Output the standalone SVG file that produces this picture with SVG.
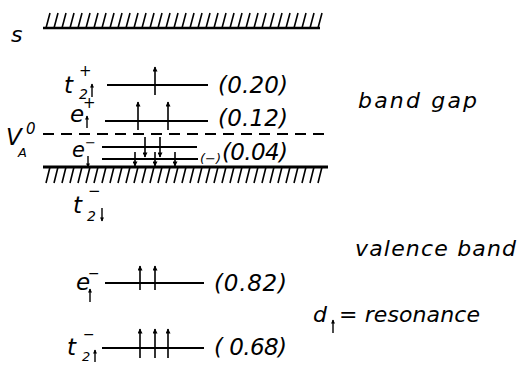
<svg xmlns="http://www.w3.org/2000/svg" width="519" height="365" viewBox="0 0 519 365">
<defs>
<style>
.t{font-family:"DejaVu Sans",sans-serif;font-style:oblique;fill:#000}
.lv{stroke:#000;stroke-width:2;fill:none}
.ar{stroke:#000;stroke-width:1.6;fill:none;marker-end:url(#ah)}
.sa{stroke:#000;stroke-width:1.4;fill:none;marker-end:url(#sh)}
</style>
<marker id="ah" viewBox="0 0 10 10" refX="9" refY="5" markerWidth="7" markerHeight="5" markerUnits="userSpaceOnUse" orient="auto"><path d="M0,0 L10,5 L0,10 z" fill="#000"/></marker>
<marker id="sh" viewBox="0 0 10 10" refX="9" refY="5" markerWidth="5" markerHeight="4" markerUnits="userSpaceOnUse" orient="auto"><path d="M0,0 L10,5 L0,10 z" fill="#000"/></marker>
</defs>
<rect width="519" height="365" fill="#fff"/>

<g id="surface">
<text class="t" x="11" y="42" font-size="22">s</text>
<line x1="43" y1="28" x2="320" y2="28" stroke="#000" stroke-width="2.5"/>
<path stroke="#000" stroke-width="1.6" fill="none" d="M46 28l4-15M54 28l4-15M62 28l4-15M70 28l4-15M78 28l4-15M86 28l4-15M94 28l4-15M102 28l4-15M110 28l4-15M118 28l4-15M126 28l4-15M134 28l4-15M142 28l4-15M150 28l4-15M158 28l4-15M166 28l4-15M174 28l4-15M182 28l4-15M190 28l4-15M198 28l4-15M206 28l4-15M214 28l4-15M222 28l4-15M230 28l4-15M238 28l4-15M246 28l4-15M254 28l4-15M262 28l4-15M270 28l4-15M278 28l4-15M286 28l4-15M294 28l4-15M302 28l4-15M310 28l4-15M318 28l4-15"/>
</g>

<g id="t2up-plus">
<text class="t" x="64" y="93" font-size="23">t</text>
<text class="t" x="79" y="76" font-size="15">+</text>
<text class="t" x="79" y="99" font-size="14">2</text>
<line class="sa" x1="92" y1="97" x2="92" y2="84"/>
<line class="lv" x1="107" y1="85" x2="208" y2="85"/>
<line class="ar" x1="155" y1="95" x2="155" y2="67"/>
<text class="t" x="218" y="93" font-size="23" textLength="70" lengthAdjust="spacing">(0.20)</text>
</g>

<g id="eup-plus">
<text class="t" x="70" y="122" font-size="23">e</text>
<text class="t" x="83" y="108" font-size="15">+</text>
<line class="sa" x1="87" y1="128" x2="87" y2="116"/>
<line class="lv" x1="105" y1="121" x2="208" y2="121"/>
<line class="ar" x1="138" y1="130" x2="138" y2="102"/>
<line class="ar" x1="168" y1="130" x2="168" y2="102"/>
<text class="t" x="218" y="126" font-size="23" textLength="70" lengthAdjust="spacing">(0.12)</text>
</g>

<g id="VA0">
<text class="t" x="6" y="145" font-size="23">V</text>
<text class="t" x="26" y="134" font-size="15">0</text>
<text class="t" x="18" y="157" font-size="13">A</text>
<line x1="43" y1="134" x2="325" y2="134" stroke="#000" stroke-width="2" stroke-dasharray="11 7"/>
</g>

<g id="edown-minus">
<text class="t" x="72" y="157" font-size="21">e</text>
<text class="t" x="85" y="147" font-size="13">−</text>
<line class="sa" x1="88" y1="156" x2="88" y2="167"/>
<line class="lv" x1="102" y1="147" x2="197" y2="147"/>
<line class="lv" x1="102" y1="159" x2="198" y2="159"/>
<line class="ar" x1="145" y1="137" x2="145" y2="157"/>
<line class="ar" x1="160" y1="137" x2="160" y2="157"/>
<line class="ar" x1="135" y1="152" x2="135" y2="166"/>
<line class="ar" x1="155" y1="152" x2="155" y2="166"/>
<line class="ar" x1="175" y1="152" x2="175" y2="166"/>
<text class="t" x="200" y="163" font-size="13">(−)</text>
<text class="t" x="222" y="160" font-size="23" textLength="66" lengthAdjust="spacing">(0.04)</text>
</g>

<g id="valence-edge">
<line x1="43" y1="167" x2="328" y2="167" stroke="#000" stroke-width="2.8"/>
<path stroke="#000" stroke-width="1.6" fill="none" d="M50 167l-4 16M58 167l-4 16M66 167l-4 16M74 167l-4 16M82 167l-4 16M90 167l-4 16M98 167l-4 16M106 167l-4 16M114 167l-4 16M122 167l-4 16M130 167l-4 16M138 167l-4 16M146 167l-4 16M154 167l-4 16M162 167l-4 16M170 167l-4 16M178 167l-4 16M186 167l-4 16M194 167l-4 16M202 167l-4 16M210 167l-4 16M218 167l-4 16M226 167l-4 16M234 167l-4 16M242 167l-4 16M250 167l-4 16M258 167l-4 16M266 167l-4 16M274 167l-4 16M282 167l-4 16M290 167l-4 16M298 167l-4 16M306 167l-4 16M314 167l-4 16M322 167l-4 16"/>
</g>

<g id="t2down-minus">
<text class="t" x="73" y="213" font-size="23">t</text>
<text class="t" x="88" y="196" font-size="15">−</text>
<text class="t" x="87" y="221" font-size="14">2</text>
<line class="sa" x1="102" y1="208" x2="102" y2="221"/>
</g>

<g id="eup-minus">
<text class="t" x="76" y="290" font-size="23">e</text>
<text class="t" x="88" y="278" font-size="14">−</text>
<line class="sa" x1="90" y1="302" x2="90" y2="289"/>
<line class="lv" x1="105" y1="283" x2="204" y2="283"/>
<line class="ar" x1="140" y1="290" x2="140" y2="266"/>
<line class="ar" x1="155" y1="290" x2="155" y2="266"/>
<text class="t" x="214" y="291" font-size="23" textLength="73" lengthAdjust="spacing">(0.82)</text>
</g>

<g id="t2up-minus">
<text class="t" x="67" y="355" font-size="23">t</text>
<text class="t" x="83" y="339" font-size="14">−</text>
<text class="t" x="82" y="361" font-size="13">2</text>
<line class="sa" x1="95" y1="362" x2="95" y2="350"/>
<line class="lv" x1="102" y1="348" x2="204" y2="348"/>
<line class="ar" x1="140" y1="358" x2="140" y2="329"/>
<line class="ar" x1="155" y1="358" x2="155" y2="329"/>
<line class="ar" x1="168" y1="358" x2="168" y2="329"/>
<text class="t" x="214" y="355" font-size="23" textLength="73" lengthAdjust="spacing">( 0.68)</text>
</g>

<g id="labels">
<text class="t" x="358" y="108" font-size="22" textLength="119" lengthAdjust="spacing">band gap</text>
<text class="t" x="355" y="256" font-size="22" textLength="161" lengthAdjust="spacing">valence band</text>
<text class="t" x="313" y="322" font-size="22">d</text>
<line class="sa" x1="333" y1="333" x2="333" y2="320"/>
<text class="t" x="339" y="322" font-size="22" textLength="141" lengthAdjust="spacing">= resonance</text>
</g>
</svg>
